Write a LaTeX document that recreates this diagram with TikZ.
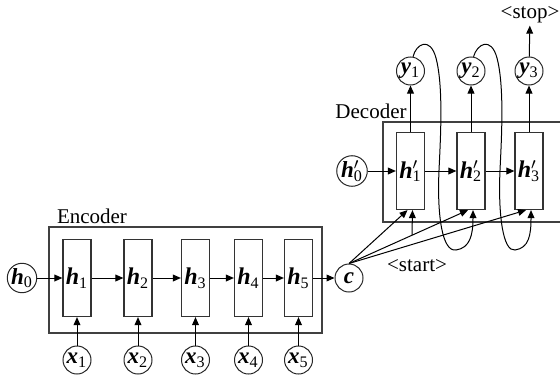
\documentclass[tikz,border=0pt]{standalone}
\usepackage{amsmath,amssymb}
\usepackage{fontspec}
\setmainfont{Liberation Serif}
\usetikzlibrary{arrows.meta,positioning,calc}
\newcommand\vsym[2]{\textbf{\textit{#1}}\textsubscript{#2}}
\newcommand\vpsym[2]{\textbf{\textit{#1}}\rlap{$^{\prime}$}\textsubscript{#2}}
\tikzset{
  cell/.style={draw=black!80,minimum width=14pt,minimum height=38.5pt,inner sep=0pt,
               line width=0.6pt,font=\fontsize{12}{14}\selectfont},
  token/.style={circle,draw=black!85,minimum size=14pt,inner sep=0pt,line width=0.5pt,
                font=\fontsize{11.5}{13}\selectfont},
  frame/.style={draw=black!75,line width=0.6pt},
  flow/.style={-{Triangle[length=4pt,width=3.4pt]},line width=0.5pt},
  tag/.style={font=\fontsize{10.5}{12}\selectfont,inner sep=1pt},
}
\begin{document}
\begin{tikzpicture}[x=0.5pt,y=-0.5pt]
  \useasboundingbox (0,0) rectangle (560,374);
  % encoder
  \draw[frame] (49,227) rectangle (322,333);
  \node[tag] (enc) at (92,216) {Encoder};
  \node[token] (h0) at (22,278) {\vsym{h}{0}};
  \foreach \i/\px in {1/77,2/138,3/195.5,4/248.5,5/298.5}{
    \node[cell] (e\i) at (\px,278) {\vsym{h}{\i}};
    \node[token] (x\i) at (\px,360) {\vsym{x}{\i}};
    \draw[flow] (x\i) -- (e\i);
  }
  \node[token] (c) at (349,278) {\textbf{\textit{c}}};
  \draw[flow] (h0) -- (e1);
  \draw[flow] (e1) -- (e2); \draw[flow] (e2) -- (e3); \draw[flow] (e3) -- (e4);
  \draw[flow] (e4) -- (e5); \draw[flow] (e5) -- (c);
  % decoder
  \draw[frame] (562,122) -| (383,222) -- (562,222);
  \node[tag] (dec) at (371,111) {Decoder};
  \node[token] (d0) at (352,171) {\vpsym{h}{0}};
  \foreach \i/\px in {1/410.5,2/471,3/529}{
    \node[cell] (d\i) at (\px,171) {\vpsym{h}{\i}};
    \node[token] (y\i) at (\px,71) {\vsym{y}{\i}};
    \draw[flow] (d\i) -- (y\i);
    \draw[flow] (c.north) -- ([xshift=-1.5pt]d\i.south);
  }
  \draw[flow] (d0) -- (d1); \draw[flow] (d1) -- (d2); \draw[flow] (d2) -- (d3);
  \node[tag] (stop) at (530,15) {\textless{}stop\textgreater};
  \draw[flow] (y3) -- (stop);
  \node[tag] (start) at (417,266) {\textless{}start\textgreater};
  \coordinate (st) at (412,235);
  \draw[flow] (st) -- ([xshift=1pt]d1.south);
  % feedback of outputs
  \draw[flow] (y1.80) .. controls (416,44) and (430,36) .. (436,58)
    .. controls (443,85) and (441,130) .. (439,170)
    .. controls (437,215) and (442,252) .. (456,250)
    .. controls (470,248) and (473,235) .. ([xshift=1pt]d2.south);
  \draw[flow] (y2.80) .. controls (477,44) and (491,36) .. (497,58)
    .. controls (504,85) and (502,130) .. (500,170)
    .. controls (498,215) and (503,252) .. (515,250)
    .. controls (529,248) and (531,235) .. ([xshift=1pt]d3.south);
\end{tikzpicture}
\end{document}
